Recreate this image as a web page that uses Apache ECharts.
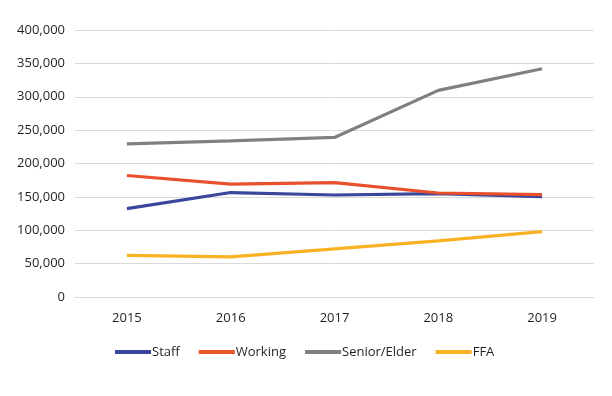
<!DOCTYPE html>
<html>
<head>
<meta charset="utf-8">
<script src="https://cdn.jsdelivr.net/npm/echarts@6/dist/echarts.min.js"></script>
<style>html,body{margin:0;padding:0;background:#fff}#c{width:612px;height:396px}</style>
</head>
<body>
<div id="c"></div>
<script>
const categories = ['2015', '2016', '2017', '2018', '2019'];
const staff = [132500, 156500, 152800, 154800, 150500];
const working = [182000, 169000, 171300, 155800, 153300];
const seniorElder = [229500, 234000, 239000, 309500, 342000];
const ffa = [62500, 60000, 72000, 84000, 97800];
const seriesNames = ['Staff', 'Working', 'Senior/Elder', 'FFA'];
const colors = ['#3a479c', '#e8502e', '#808080', '#f9b224'];

const chart = echarts.init(document.getElementById('c'), null, {renderer: 'canvas'});
const font = '"Open Sans", "Liberation Sans", sans-serif';
const dataSets = [staff, working, seniorElder, ffa];
chart.setOption({
  animation: false,
  backgroundColor: '#ffffff',
  color: colors,
  grid: {left: 75, right: 18, top: 30, bottom: 99, containLabel: false},
  legend: {
    left: 110, top: 339,
    icon: 'rect', itemWidth: 36, itemHeight: 4, itemGap: 19,
    textStyle: {fontFamily: font, fontSize: 13, color: '#231f20', lineHeight: 16, padding: [0, 0, 0, -4]},
    data: seriesNames
  },
  xAxis: {
    type: 'category',
    data: categories,
    boundaryGap: true,
    axisLine: {show: true, lineStyle: {color: '#d9d9d9', width: 1}},
    axisTick: {show: false},
    axisLabel: {fontFamily: font, fontSize: 13, color: '#231f20', margin: 15}
  },
  yAxis: {
    type: 'value',
    min: 0, max: 400000, interval: 50000,
    axisLine: {show: false},
    axisTick: {show: false},
    splitLine: {lineStyle: {color: '#d9d9d9', width: 1}},
    axisLabel: {
      fontFamily: font, fontSize: 13, color: '#231f20', margin: 10,
      formatter: v => v.toLocaleString('en-US')
    }
  },
  series: seriesNames.map((n, i) => ({
    name: n,
    type: 'line',
    data: dataSets[i],
    showSymbol: false,
    symbol: 'none',
    lineStyle: {width: 3.2, color: colors[i]},
    itemStyle: {color: colors[i]}
  }))
});
</script>
</body>
</html>
